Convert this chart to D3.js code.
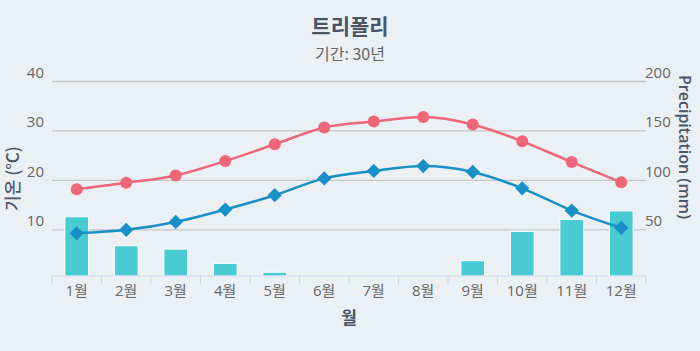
<!DOCTYPE html>
<html>
<head>
<meta charset="utf-8">
<title>트리폴리</title>
<script src="https://d3js.org/d3.v7.min.js"></script>
<style>
  body { margin: 0; background: #ebf0f5; }
  svg { display: block; font-family: "Open Sans", "Noto Sans CJK KR", sans-serif; }
</style>
</head>
<body>
<div class="chart"></div>
<script>
// 데이터
const months = ['1월', '2월', '3월', '4월', '5월', '6월', '7월', '8월', '9월', '10월', '11월', '12월']
const tempMax = [18.1, 19.4, 20.9, 23.8, 27.2, 30.6, 31.8, 32.7, 31.2, 27.8, 23.6, 19.5]
const tempMin = [9.2, 9.9, 11.5, 14.0, 16.9, 20.3, 21.8, 22.8, 21.6, 18.3, 13.8, 10.3]
const precip = [62.7, 33.4, 30.0, 15.6, 6.6, 0, 0, 0, 18.3, 48.0, 60.0, 68.7]
const tempTicks = [10, 20, 30, 40]
const precipTicks = [50, 100, 150, 200]

const width = 700
const height = 351
const margin = { top: 81, right: 54, bottom: 75, left: 52 }

const svg = d3.select('.chart').append('svg')
  .attr('width', width)
  .attr('height', height)

svg.append('rect').attr('width', width).attr('height', height).attr('fill', '#ebf0f5')

const x = d3.scaleBand(months, [margin.left, width - margin.right])
const xBar = d3.scaleBand(months, [margin.left, width - margin.right]).paddingInner(0.52).paddingOuter(0.26)
const y = d3.scaleLinear([0.56, 40], [height - margin.bottom, margin.top])
const yR = d3.scaleLinear([2.8, 200], [height - margin.bottom, margin.top])

// 그리드
svg.append('g')
  .selectAll('line')
  .data(tempTicks)
  .join('line')
  .attr('x1', margin.left)
  .attr('x2', width - margin.right)
  .attr('y1', d => y(d) + 0.5)
  .attr('y2', d => y(d) + 0.5)
  .attr('stroke', '#c4c6c8')
  .attr('stroke-width', 1.3)

// 왼쪽 눈금
svg.append('g')
  .selectAll('text')
  .data(tempTicks)
  .join('text')
  .attr('x', margin.left - 8)
  .attr('y', d => y(d) - 3)
  .attr('text-anchor', 'end')
  .attr('font-size', 15)
  .attr('fill', '#666')
  .text(d => d)

// 오른쪽 눈금
svg.append('g')
  .selectAll('text')
  .data(precipTicks)
  .join('text')
  .attr('x', width - margin.right - 1)
  .attr('y', d => yR(d) - 3)
  .attr('text-anchor', 'start')
  .attr('font-size', 15)
  .attr('fill', '#666')
  .text(d => d)

// 강수량 막대
svg.append('g')
  .selectAll('rect')
  .data(precip)
  .join('rect')
  .attr('x', (d, i) => xBar(months[i]))
  .attr('width', xBar.bandwidth())
  .attr('y', d => yR(d))
  .attr('height', d => Math.max(0, yR.range()[0] - yR(d)))
  .attr('fill', '#48cbd3')
  .attr('stroke', '#fff')
  .attr('stroke-width', d => d > 0 ? 1 : 0)

// x축
const xAxis = svg.append('g')
  .attr('transform', `translate(0, ${height - margin.bottom})`)
xAxis.append('line')
  .attr('x1', margin.left).attr('x2', width - margin.right)
  .attr('stroke', '#ccd6eb')
xAxis.selectAll('.tick')
  .data(months.concat(['end']))
  .join('line')
  .attr('x1', d => d === 'end' ? width - margin.right : x(d))
  .attr('x2', d => d === 'end' ? width - margin.right : x(d))
  .attr('y2', 8)
  .attr('stroke', '#ccd6eb')
xAxis.selectAll('text')
  .data(months)
  .join('text')
  .attr('x', d => x(d) + x.bandwidth() / 2)
  .attr('y', 20)
  .attr('text-anchor', 'middle')
  .attr('font-size', 15)
  .attr('fill', '#666')
  .text(d => d)

// 선
const cx = i => x(months[i]) + x.bandwidth() / 2
const line = d3.line()
  .x((d, i) => cx(i))
  .y(d => y(d))
  .curve(d3.curveMonotoneX)

svg.append('path')
  .datum(tempMax)
  .attr('d', line)
  .attr('fill', 'none')
  .attr('stroke', '#ee6677')
  .attr('stroke-width', 2.5)

svg.append('path')
  .datum(tempMin)
  .attr('d', line)
  .attr('fill', 'none')
  .attr('stroke', '#188fc6')
  .attr('stroke-width', 2.5)

svg.append('g')
  .selectAll('circle')
  .data(tempMax)
  .join('circle')
  .attr('cx', (d, i) => cx(i))
  .attr('cy', d => y(d))
  .attr('r', 6)
  .attr('fill', '#ee6677')

svg.append('g')
  .selectAll('path')
  .data(tempMin)
  .join('path')
  .attr('d', d3.symbol(d3.symbolDiamond2, 130))
  .attr('transform', (d, i) => `translate(${cx(i)}, ${y(d)})`)
  .attr('fill', '#188fc6')

// 제목
svg.append('text')
  .attr('x', width / 2).attr('y', 34)
  .attr('text-anchor', 'middle')
  .attr('font-family', '"Noto Sans CJK KR", sans-serif')
  .attr('font-size', 21)
  .attr('font-weight', 'bold')
  .attr('fill', '#4a5568')
  .text('트리폴리')

svg.append('text')
  .attr('x', width / 2).attr('y', 60)
  .attr('text-anchor', 'middle')
  .attr('font-family', '"Noto Sans CJK KR", sans-serif')
  .attr('font-size', 16)
  .attr('fill', '#666')
  .text('기간: 30년')

// 축 제목
svg.append('text')
  .attr('transform', `translate(19, ${(y(40) + y(0.56)) / 2}) rotate(-90)`)
  .attr('text-anchor', 'middle')
  .attr('font-family', '"Noto Sans CJK KR", sans-serif')
  .attr('font-size', 17)
  .attr('font-weight', 500)
  .attr('fill', '#4a5568')
  .text('기온 (°C)')

svg.append('text')
  .attr('transform', `translate(679, 147) rotate(90)`)
  .attr('text-anchor', 'middle')
  .attr('font-size', 16)
  .attr('font-weight', 600)
  .attr('fill', '#4a5568')
  .text('Precipitation (mm)')

svg.append('text')
  .attr('x', (margin.left + width - margin.right) / 2)
  .attr('y', 324)
  .attr('text-anchor', 'middle')
  .attr('font-family', '"Noto Sans CJK KR", sans-serif')
  .attr('font-size', 17)
  .attr('font-weight', 'bold')
  .attr('fill', '#4a5568')
  .text('월')
</script>
</body>
</html>
